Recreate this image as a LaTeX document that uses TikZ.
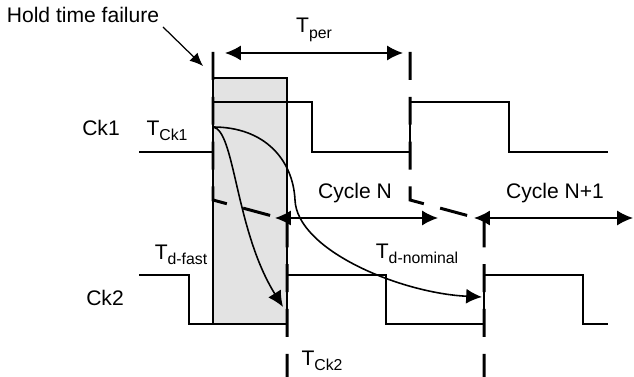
\documentclass[tikz,border=0pt]{standalone}
\usepackage{fontspec}
\setmainfont{Liberation Sans}
\usetikzlibrary{arrows.meta}
\newcommand{\Tsub}[1]{T\raisebox{-0.5ex}{\fontsize{9}{10}\selectfont #1}}
\tikzset{
    lbl/.style={inner sep=0pt, font=\fontsize{12}{14}\selectfont},
    wave/.style={draw=black, line width=0.6pt},
    window/.style={draw=black, fill=gray!22, line width=0.6pt},
    edgemark/.style={draw=black, line width=1.7pt, dash pattern=on 15.9pt off 9.6pt},
    span/.style={{Latex[length=9pt,width=8.5pt]}-{Latex[length=9pt,width=8.5pt]}, line width=0.9pt},
    delay/.style={-{Latex[length=9pt,width=8.5pt]}, line width=0.9pt},
    pointer/.style={-{Latex[length=7.5pt,width=6.5pt]}, line width=0.7pt},
}
\begin{document}
\begin{tikzpicture}[x=0.02cm, y=-0.02cm]
    \useasboundingbox (0,0) rectangle (634,377);
    \draw[window] (213,78) rectangle (287,324);
    \draw[wave] (139,152) -- (213,152) -- (213,102) -- (312,102) -- (312,152) -- (410,152)
        -- (410,102) -- (509,102) -- (509,152) -- (608,152);
    \draw[wave] (139,275) -- (189,275) -- (189,324) -- (287,324) -- (287,275) -- (386,275)
        -- (386,324) -- (484,324) -- (484,275) -- (583,275) -- (583,324) -- (608,324);
    \draw[edgemark] (213,52) -- (213,200) -- (287,220) -- (287,377);
    \draw[edgemark] (410,52) -- (410,200) -- (484,220) -- (484,377);
    \node[lbl] (hold) at (83,15) {Hold time failure};
    \node[lbl] (per) at (314,30) {\Tsub{per}};
    \node[lbl] (ck1) at (101,128) {Ck1};
    \node[lbl] (tck1) at (167,131) {\Tsub{Ck1}};
    \node[lbl] (cycn) at (355,193) {Cycle N};
    \node[lbl] (cycn1) at (555,193) {Cycle N+1};
    \node[lbl] (fast) at (181,255) {\Tsub{d-fast}};
    \node[lbl] (ck2) at (105,298) {Ck2};
    \node[lbl] (nominal) at (417,254) {\Tsub{d-nominal}};
    \node[lbl] (tck2) at (322,361) {\Tsub{Ck2}};
    \coordinate (holdtail) at (163,27);
    \coordinate (holdtip) at (203,66);
    \coordinate (perL) at (225,53);
    \coordinate (perR) at (403,53);
    \coordinate (cycnL) at (275,218);
    \coordinate (cycnR) at (438,218);
    \coordinate (cycn1L) at (474,218);
    \coordinate (cycn1R) at (633,218);
    \coordinate (launch) at (213,127);
    \coordinate (fastend) at (283,307);
    \coordinate (nomend) at (482,297);
    \draw[pointer] (holdtail) -- (holdtip);
    \draw[span] (perL) -- (perR);
    \draw[span] (cycnL) -- (cycnR);
    \draw[span] (cycn1L) -- (cycn1R);
    \draw[delay] (launch) .. controls (235,130) and (235,230) .. (fastend);
    \draw[delay] (launch) .. controls (265,127) and (293,160) .. (295,200)
        .. controls (297,250) and (400,293) .. (nomend);
\end{tikzpicture}
\end{document}
